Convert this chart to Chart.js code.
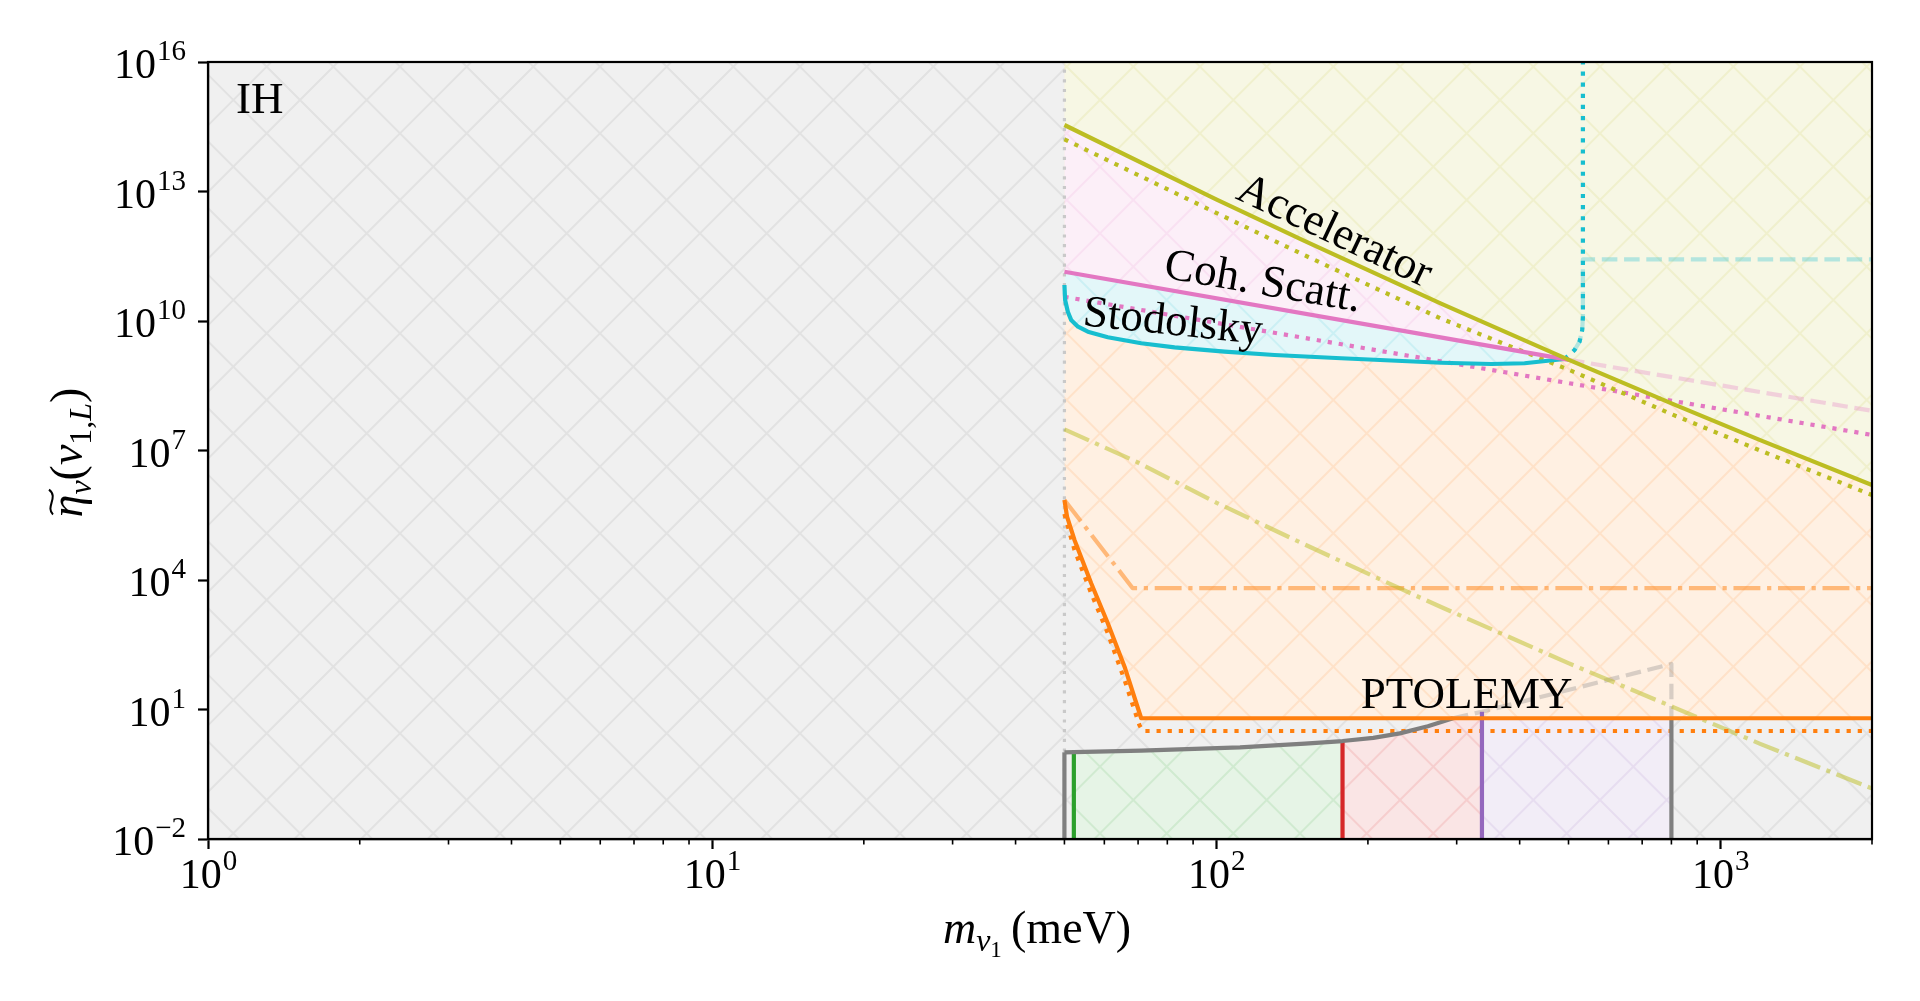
<!DOCTYPE html>
<html>
<head>
<meta charset="utf-8">
<title>IH - relic neutrino overdensity bounds</title>
<script src="https://cdn.jsdelivr.net/npm/chart.js@4.4.1/dist/chart.umd.min.js"></script>
<style>
  html, body { margin: 0; padding: 0; background: #fff; }
  canvas { display: block; }
</style>
</head>
<body>
<canvas id="chart" width="1920" height="1001"></canvas>
<script>
// x: m_nu1 (meV), y: eta_nu(nu_1,L)
const xMin = 1, xMax = 2000, yMin = 1e-2, yMax = 1e16;
const mLight = 50;

const accelM   = [50, 100, 150, 278.6, 501, 809, 1200, 2000];
const accelEta = [3.47e14, 6.6e12, 7.1e11, 2.57e10, 1.26e9, 1.17e8, 1.74e7, 1.58e6];
const accelDotM   = [50, 100, 150, 278.6, 501, 809, 1200, 2000];
const accelDotEta = [1.62e14, 3.2e12, 3.3e11, 1.15e10, 7.4e8, 6.6e7, 1.0e7, 9.3e5];
const accelDashDotM   = [50, 69.4, 100, 150, 231, 278.6, 501, 809, 1200, 2000];
const accelDashDotEta = [3.09e7, 5.5e6, 6.2e5, 6.6e4, 6.46e3, 2.4e3, 117, 11.2, 1.6, 0.148];

const cohM   = [50, 278.6, 501];
const cohEta = [1.38e11, 4.17e9, 1.26e9];
const cohDashM   = [501, 2000];
const cohDashEta = [1.26e9, 8.3e7];
const cohDotM   = [50, 278.6, 2000];
const cohDotEta = [3.63e10, 1.17e9, 2.29e7];

const stodM   = [50, 50.16, 50.78, 51.55, 53.2, 55.65, 60.96, 71.0, 82.7, 103.9, 130.5, 177.0, 279.5, 351.3, 409.0, 455.0, 491.0];
const stodEta = [6.82e10, 3.07e10, 1.64e10, 1.06e10, 7.40e9, 5.66e9, 4.20e9, 3.05e9, 2.46e9, 1.95e9, 1.63e9, 1.37e9, 1.08e9, 1.01e9, 1.05e9, 1.20e9, 1.33e9];
const stodDotM   = [491, 502, 514, 525.8, 532.3, 534, 534];
const stodDotEta = [1.33e9, 1.63e9, 2.13e9, 3.32e9, 6.19e9, 1.26e10, 1e16];
const stodDashM   = [514, 525.8, 532.3, 534, 534, 2000];
const stodDashEta = [2.13e9, 3.32e9, 6.19e9, 1.26e10, 2.69e11, 2.69e11];

const ptolM   = [50, 50.6, 52.35, 56.5, 60.96, 65.8, 71.0, 2000];
const ptolEta = [7.14e5, 2.93e5, 8.47e4, 8.39e3, 995, 98.4, 6.27, 6.27];
const ptolDotM   = [50, 52.35, 56.5, 60.96, 65.8, 70.4, 71.5, 2000];
const ptolDotEta = [3.4e5, 4.97e4, 4.93e3, 583, 48.3, 4.39, 3.18, 3.18];
const ptolDashDotM   = [50, 68.3, 2000];
const ptolDashDotEta = [7.14e5, 6.46e3, 6.46e3];

const grayM   = [50, 52.2, 71.0, 111.5, 150, 178.1, 205, 231.4, 263, 295];
const grayEta = [1.02, 1.03, 1.12, 1.32, 1.62, 1.86, 2.2, 2.8, 4.1, 6.27];
const grayDashM   = [295, 336.7, 800, 800];
const grayDashEta = [6.27, 8.85, 113.5, 6.27];

// green / red / purple / gray bar edges and the heights of their edge lines
const barEdgeM   = [52.2, 178.1, 336.7, 800];
const barLineEta = [1.03, 1.86, 8.85, 6.27];

const xTickExp = [0, 1, 2, 3];
const yTickExp = [-2, 1, 4, 7, 10, 13, 16];
const xMinorTicks = [2, 3, 4, 5, 6, 7, 8, 9, 20, 30, 40, 50, 60, 70, 80, 90,
                     200, 300, 400, 500, 600, 700, 800, 900, 2000];

const annotations = [
  {text: 'Accelerator', m: 171.5, eta: 1.15e12, angle: 25.3, base: 'middle'},
  {text: 'Coh. Scatt.', m: 123.7, eta: 7.6e10, angle: 9.9, base: 'middle'},
  {text: 'Stodolsky', m: 82.0, eta: 9.0e9, angle: 6, base: 'middle'},
  {text: 'PTOLEMY', m: 314, eta: 10.7, angle: 0, base: 'alphabetic'}
];

// ---- styling ----
const tab = {
  gray: [127, 127, 127], orange: [255, 127, 14], olive: [188, 189, 34], pink: [227, 119, 194],
  cyan: [23, 190, 207], green: [44, 160, 44], red: [214, 39, 40], purple: [148, 103, 189]
};
const LW = 4.2;
const DOT = [LW, LW * 1.65];
const DASH = [LW * 3.7, LW * 1.6];
const DASHDOT = [LW * 6.4, LW * 1.6, LW, LW * 1.6];
const SERIF = "'Liberation Serif', 'DejaVu Serif', serif";

const rgb = c => `rgb(${c[0]},${c[1]},${c[2]})`;
const rgba = (c, a) => `rgba(${c[0]},${c[1]},${c[2]},${a})`;
const pts = (ms, etas) => ms.map((m, i) => ({x: m, y: etas[i]}));

const mainCtx = document.getElementById('chart').getContext('2d');

// light fill with an 'x' hatch, anchored on the canvas origin like matplotlib
function hatchFill(c) {
  const size = 200, step = size / 3;
  const tile = document.createElement('canvas');
  tile.width = tile.height = size;
  const g = tile.getContext('2d');
  const base = c.map(v => Math.round(255 - 0.12 * (255 - v)));
  const line = base.map((v, i) => Math.round(v - 0.12 * (v - c[i])));
  g.fillStyle = rgb(base);
  g.fillRect(0, 0, size, size);
  g.strokeStyle = rgb(line);
  g.lineWidth = 2;
  g.beginPath();
  for (let k = -6; k <= 12; k++) {
    const c0 = k * step;
    g.moveTo(c0 + 400, -400); g.lineTo(c0 - 400, 400);
    g.moveTo(c0 - 400, -400); g.lineTo(c0 + 400, 400);
  }
  g.stroke();
  return mainCtx.createPattern(tile, 'repeat');
}

function line(label, data, color, dash, order, width) {
  return {
    label, data, order, fill: false, borderColor: color,
    borderWidth: width || LW, borderDash: dash || [], borderJoinStyle: 'round', pointRadius: 0
  };
}
function area(label, data, fill, c, order) {
  return {label, data, order, fill, backgroundColor: hatchFill(c), borderWidth: 0, pointRadius: 0};
}

const inGray = (lo, hi) => pts(grayM, grayEta).filter(p => p.x >= lo && p.x <= hi);
const ptolFlat = ptolEta[ptolEta.length - 1];
const vline = (m, top) => [{x: m, y: yMin}, {x: m, y: top}];

const datasets = [
  area('PTOLEMY region', pts(ptolM, ptolEta), 'end', tab.orange, 40),
  area('Accelerator region', pts(accelM, accelEta), 'end', tab.olive, 39),
  area('Coh. Scatt. region', pts(cohM, cohEta), 1, tab.pink, 38),
  area('Stodolsky region', pts(stodM, stodEta), 2, tab.cyan, 37),
  area('bar green', inGray(barEdgeM[0], barEdgeM[1]), 'start', tab.green, 36),
  area('bar red', inGray(barEdgeM[1], barEdgeM[2]).concat([{x: barEdgeM[2], y: ptolFlat}]), 'start', tab.red, 35),
  area('bar purple', [{x: barEdgeM[2], y: ptolFlat}, {x: barEdgeM[3], y: ptolFlat}], 'start', tab.purple, 34),

  line('m min', [{x: mLight, y: yMin}, {x: mLight, y: yMax}], '#c9c9c9', [3.2, 6.5], 30, 3.2),
  line('Accelerator dash-dot', pts(accelDashDotM, accelDashDotEta), rgba(tab.olive, 0.5), DASHDOT, 20),
  line('PTOLEMY dash-dot', pts(ptolDashDotM, ptolDashDotEta), rgba(tab.orange, 0.5), DASHDOT, 20),
  line('Coh. Scatt. dashed', pts(cohDashM, cohDashEta), rgba(tab.pink, 0.3), DASH, 20),
  line('Stodolsky dashed', pts(stodDashM, stodDashEta), rgba(tab.cyan, 0.3), DASH, 20),
  line('gray dashed', pts(grayDashM, grayDashEta), rgba(tab.gray, 0.3), DASH, 20),
  line('Accelerator dotted', pts(accelDotM, accelDotEta), rgb(tab.olive), DOT, 15),
  line('Coh. Scatt. dotted', pts(cohDotM, cohDotEta), rgb(tab.pink), DOT, 15),
  line('Stodolsky dotted', pts(stodDotM, stodDotEta), rgb(tab.cyan), DOT, 15),
  line('PTOLEMY dotted', pts(ptolDotM, ptolDotEta), rgb(tab.orange), DOT, 15),
  line('gray edge', vline(mLight, grayEta[0]), rgb(tab.gray), null, 10),
  line('green edge', vline(barEdgeM[0], barLineEta[0]), rgb(tab.green), null, 10),
  line('red edge', vline(barEdgeM[1], barLineEta[1]), rgb(tab.red), null, 10),
  line('purple edge', vline(barEdgeM[2], barLineEta[2]), rgb(tab.purple), null, 10),
  line('gray edge 2', vline(barEdgeM[3], barLineEta[3]), rgb(tab.gray), null, 10),
  line('gray', pts(grayM, grayEta), rgb(tab.gray), null, 5),
  line('PTOLEMY', pts(ptolM, ptolEta), rgb(tab.orange), null, 4),
  line('Stodolsky', pts(stodM, stodEta), rgb(tab.cyan), null, 3),
  line('Coh. Scatt.', pts(cohM, cohEta), rgb(tab.pink), null, 2),
  line('Accelerator', pts(accelM, accelEta), rgb(tab.olive), null, 1)
];

// ---- text helpers ----
const BASE_PX = 42, EXP_PX = 29, EXP_RAISE = 18;
function drawPow(ctx, exp, x, y, align) {
  const es = exp < 0 ? '\u2212' + (-exp) : String(exp);
  ctx.font = `${BASE_PX}px ${SERIF}`;
  const wb = ctx.measureText('10').width;
  ctx.font = `${EXP_PX}px ${SERIF}`;
  const we = ctx.measureText(es).width;
  const x0 = align === 'right' ? x - wb - we : x - (wb + we) / 2;
  ctx.textAlign = 'left';
  ctx.textBaseline = 'alphabetic';
  ctx.font = `${BASE_PX}px ${SERIF}`;
  ctx.fillText('10', x0, y);
  ctx.font = `${EXP_PX}px ${SERIF}`;
  ctx.fillText(es, x0 + wb + 1, y - EXP_RAISE);
}

// pieces: [text, italic, size, drop]
function drawPieces(ctx, pieces) {
  let w = 0;
  pieces.forEach(p => {
    ctx.font = `${p[1] ? 'italic ' : ''}${p[2]}px ${SERIF}`;
    p.w = ctx.measureText(p[0]).width;
    w += p.w;
  });
  let x0 = -w / 2;
  ctx.textAlign = 'left';
  ctx.textBaseline = 'alphabetic';
  pieces.forEach(p => {
    ctx.font = `${p[1] ? 'italic ' : ''}${p[2]}px ${SERIF}`;
    ctx.fillText(p[0], x0, p[3]);
    p.x = x0;
    x0 += p.w;
  });
  return pieces;
}

const decor = {
  id: 'decor',
  beforeDraw(chart) {
    const {ctx, chartArea: a} = chart;
    ctx.save();
    ctx.fillStyle = '#fff';
    ctx.fillRect(0, 0, chart.width, chart.height);
    ctx.fillStyle = hatchFill(tab.gray);
    ctx.fillRect(a.left, a.top, a.right - a.left, a.bottom - a.top);
    ctx.restore();
  },
  afterDraw(chart) {
    const {ctx, chartArea: a, scales: {x, y}} = chart;
    ctx.save();
    ctx.strokeStyle = '#000';
    ctx.lineWidth = 2.2;
    ctx.strokeRect(a.left, a.top, a.right - a.left, a.bottom - a.top);

    ctx.lineWidth = 1.6;
    ctx.beginPath();
    xMinorTicks.forEach(v => {
      const px = x.getPixelForValue(v);
      ctx.moveTo(px, a.bottom);
      ctx.lineTo(px, a.bottom + 5.6);
    });
    ctx.stroke();

    ctx.fillStyle = '#000';
    xTickExp.forEach(e => drawPow(ctx, e, x.getPixelForValue(10 ** e), a.bottom + 49, 'center'));
    yTickExp.forEach(e => drawPow(ctx, e, a.left - 23, y.getPixelForValue(10 ** e) + 16, 'right'));

    // x axis title: m_{nu_1} (meV)
    ctx.save();
    ctx.translate((a.left + a.right) / 2 - 3, 943);
    drawPieces(ctx, [['m', true, 46, 0], ['\u03bd', true, 32, 8], ['1', false, 23, 14],
                     ['\u2009', false, 46, 0], ['(meV)', false, 46, 0]]);
    ctx.restore();

    // y axis title: tilde-eta_nu(nu_{1,L})
    ctx.save();
    ctx.translate(82, (a.top + a.bottom) / 2 + 2);
    ctx.rotate(-Math.PI / 2);
    const p = drawPieces(ctx, [['\u03b7', true, 46, 0], ['\u03bd', true, 32, 9], ['(', false, 46, 0],
                               ['\u03bd', true, 46, 0], ['1,', false, 32, 9], ['L', true, 32, 9], [')', false, 46, 0]]);
    const tx = p[0].x + 3, tw = p[0].w + 2, ty = -31;
    ctx.lineWidth = 2;
    ctx.strokeStyle = '#000';
    ctx.beginPath();
    ctx.moveTo(tx, ty + 2);
    ctx.bezierCurveTo(tx + tw * 0.3, ty - 6, tx + tw * 0.7, ty + 8, tx + tw, ty - 2);
    ctx.stroke();
    ctx.restore();

    ctx.font = `45px ${SERIF}`;
    ctx.textAlign = 'left';
    ctx.textBaseline = 'alphabetic';
    ctx.fillText('IH', a.left + 28, a.top + 51);

    annotations.forEach(t => {
      ctx.save();
      ctx.translate(x.getPixelForValue(t.m), y.getPixelForValue(t.eta));
      ctx.rotate(t.angle * Math.PI / 180);
      ctx.font = `45px ${SERIF}`;
      ctx.textAlign = 'center';
      ctx.textBaseline = t.base;
      ctx.fillText(t.text, 0, 0);
      ctx.restore();
    });
    ctx.restore();
  }
};

new Chart(mainCtx, {
  type: 'line',
  data: {datasets},
  options: {
    responsive: false,
    maintainAspectRatio: false,
    animation: false,
    devicePixelRatio: 1,
    events: [],
    layout: {padding: {top: 62, right: 48, left: 0, bottom: 0}},
    plugins: {
      legend: {display: false},
      tooltip: {enabled: false},
      filler: {drawTime: 'beforeDatasetsDraw'}
    },
    scales: {
      x: {
        type: 'logarithmic', min: xMin, max: xMax, position: 'bottom',
        afterBuildTicks: s => { s.ticks = xTickExp.map(e => ({value: 10 ** e})); },
        afterFit: s => { s.height = 162; },
        ticks: {display: false},
        grid: {drawOnChartArea: false, drawTicks: true, tickLength: 10, tickWidth: 2.2, tickColor: '#000'},
        border: {display: true, color: '#000', width: 2.2}
      },
      y: {
        type: 'logarithmic', min: yMin, max: yMax, position: 'left',
        afterBuildTicks: s => { s.ticks = yTickExp.map(e => ({value: 10 ** e})); },
        afterFit: s => { s.width = 208; },
        ticks: {display: false},
        grid: {drawOnChartArea: false, drawTicks: true, tickLength: 10, tickWidth: 2.2, tickColor: '#000'},
        border: {display: true, color: '#000', width: 2.2}
      }
    }
  },
  plugins: [decor]
});
</script>
</body>
</html>
